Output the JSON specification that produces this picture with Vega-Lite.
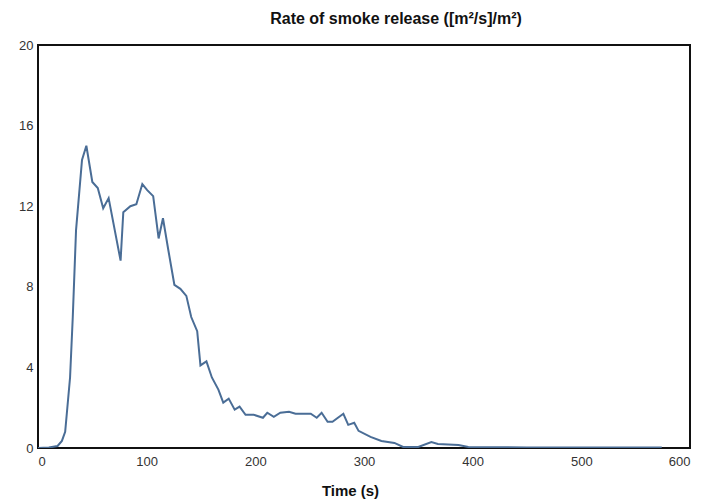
{
  "$schema": "https://vega.github.io/schema/vega-lite/v6.json",
  "width": 652,
  "height": 403,
  "autosize": "none",
  "padding": {"left": 38, "top": 45, "right": 36, "bottom": 56},
  "background": "white",
  "title": {
    "text": "Rate of smoke release ([m²/s]/m²)",
    "font": "Liberation Sans",
    "fontSize": 16,
    "fontWeight": "bold",
    "color": "#111111",
    "anchor": "middle",
    "dx": 32,
    "offset": 12
  },
  "config": {
    "view": {"stroke": "#111111", "strokeWidth": 2},
    "axis": {
      "grid": false,
      "ticks": false,
      "domain": false,
      "labelFont": "Liberation Sans",
      "labelFontSize": 13,
      "labelColor": "#333333",
      "titleFont": "Liberation Sans"
    }
  },
  "data": {
    "values": [
      {"t": 0, "v": 0},
      {"t": 10, "v": 0.02},
      {"t": 18, "v": 0.1},
      {"t": 22, "v": 0.35},
      {"t": 25, "v": 0.8},
      {"t": 29.5, "v": 3.5},
      {"t": 32, "v": 6.5},
      {"t": 35, "v": 10.8},
      {"t": 40.5, "v": 14.3},
      {"t": 44.5, "v": 15.0},
      {"t": 50, "v": 13.2},
      {"t": 55, "v": 12.9},
      {"t": 60, "v": 11.9},
      {"t": 65, "v": 12.4},
      {"t": 76, "v": 9.3},
      {"t": 78.5, "v": 11.7},
      {"t": 85, "v": 12.0},
      {"t": 90.5, "v": 12.1},
      {"t": 96, "v": 13.1},
      {"t": 100.5, "v": 12.8},
      {"t": 106, "v": 12.5},
      {"t": 111, "v": 10.4},
      {"t": 115, "v": 11.4},
      {"t": 120, "v": 9.8},
      {"t": 125.5, "v": 8.1},
      {"t": 131, "v": 7.9},
      {"t": 136.5, "v": 7.55},
      {"t": 141, "v": 6.5},
      {"t": 146.5, "v": 5.8},
      {"t": 149.5, "v": 4.1},
      {"t": 155, "v": 4.3},
      {"t": 160, "v": 3.5},
      {"t": 166, "v": 2.9},
      {"t": 170.5, "v": 2.25},
      {"t": 175.5, "v": 2.45},
      {"t": 181, "v": 1.9},
      {"t": 185.5, "v": 2.05},
      {"t": 191, "v": 1.65},
      {"t": 198.5, "v": 1.65},
      {"t": 207, "v": 1.5},
      {"t": 211, "v": 1.75},
      {"t": 217, "v": 1.55},
      {"t": 223, "v": 1.75},
      {"t": 231, "v": 1.8},
      {"t": 237, "v": 1.7},
      {"t": 251, "v": 1.7},
      {"t": 256.5, "v": 1.5},
      {"t": 261, "v": 1.75},
      {"t": 266.5, "v": 1.3},
      {"t": 271, "v": 1.3},
      {"t": 281, "v": 1.7},
      {"t": 285.5, "v": 1.15},
      {"t": 291, "v": 1.25},
      {"t": 295, "v": 0.85},
      {"t": 306, "v": 0.55},
      {"t": 316, "v": 0.35},
      {"t": 328, "v": 0.25},
      {"t": 336, "v": 0.05},
      {"t": 350, "v": 0.05},
      {"t": 362, "v": 0.3},
      {"t": 368, "v": 0.2},
      {"t": 387, "v": 0.15},
      {"t": 396, "v": 0.05},
      {"t": 420, "v": 0.04},
      {"t": 450, "v": 0.03},
      {"t": 500, "v": 0.02},
      {"t": 574, "v": 0.02}
    ]
  },
  "mark": {"type": "line", "color": "#4a6d96", "strokeWidth": 2, "clip": true},
  "encoding": {
    "x": {
      "field": "t",
      "type": "quantitative",
      "scale": {"domain": [0, 600], "nice": false},
      "axis": {
        "values": [0, 100, 200, 300, 400, 500, 600],
        "labelPadding": 7,
        "title": "Time (s)",
        "titleFontSize": 15,
        "titleFontWeight": "bold",
        "titleColor": "#111111",
        "titleX": 312,
        "titlePadding": 15
      }
    },
    "y": {
      "field": "v",
      "type": "quantitative",
      "scale": {"domain": [0, 20], "nice": false},
      "axis": {
        "values": [0, 4, 8, 12, 16, 20],
        "labelPadding": 5,
        "title": null
      }
    }
  }
}
